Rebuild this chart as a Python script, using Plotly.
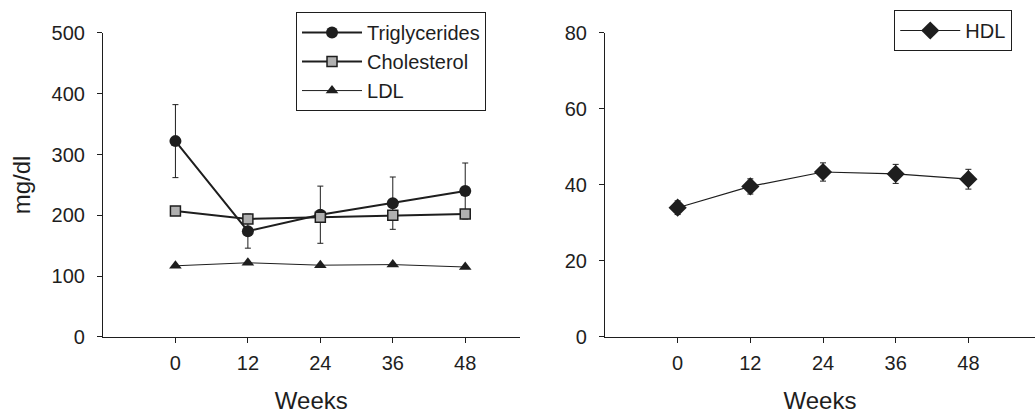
import plotly.graph_objects as go

weeks = [0, 12, 24, 36, 48]
trig = [322, 174, 201, 220, 240]
trig_err = [60, 28, 47, 43, 46]
chol = [207, 194, 197, 200, 202]
chol_err = [6, 5, 5, 5, 5]
ldl = [117, 122, 118, 119, 115]
hdl = [34.0, 39.6, 43.4, 42.9, 41.5]
hdl_err = [1.8, 2.0, 2.4, 2.5, 2.6]

FONT = "Liberation Sans, Arial"
INK = "#1e1e1e"

fig = go.Figure()
fig.add_trace(go.Scatter(x=weeks, y=trig, name="Triglycerides", mode="lines+markers",
                         line=dict(color=INK, width=2),
                         marker=dict(symbol="circle", size=12, color=INK),
                         error_y=dict(type="data", array=trig_err, color=INK, thickness=1, width=3),
                         xaxis="x", yaxis="y", legend="legend"))
fig.add_trace(go.Scatter(x=weeks, y=chol, name="Cholesterol", mode="lines+markers",
                         line=dict(color=INK, width=2),
                         marker=dict(symbol="square", size=10, color="#b0b0b0",
                                     line=dict(color=INK, width=1.5)),
                         error_y=dict(type="data", array=chol_err, color=INK, thickness=1, width=3),
                         xaxis="x", yaxis="y", legend="legend"))
fig.add_trace(go.Scatter(x=weeks, y=ldl, name="LDL", mode="lines+markers",
                         line=dict(color=INK, width=1),
                         marker=dict(symbol="triangle-up", size=11, color=INK),
                         xaxis="x", yaxis="y", legend="legend"))
fig.add_trace(go.Scatter(x=weeks, y=hdl, name="HDL", mode="lines+markers",
                         line=dict(color=INK, width=1.2),
                         marker=dict(symbol="diamond", size=14, color=INK),
                         error_y=dict(type="data", array=hdl_err, color=INK, thickness=1, width=3),
                         xaxis="x2", yaxis="y2", legend="legend2"))

axis_common = dict(showline=True, linecolor=INK, linewidth=1, ticks="outside",
                   ticklen=5, tickcolor=INK, showgrid=False, zeroline=False,
                   automargin=False,
                   tickfont=dict(family=FONT, size=20, color=INK))
title_font = dict(family=FONT, size=24, color=INK)

fig.update_layout(
    width=1035, height=416,
    margin=dict(l=0, r=0, t=0, b=0),
    paper_bgcolor="white", plot_bgcolor="white",
    xaxis=dict(domain=[0.0995, 0.502], range=[-12, 57], tickvals=weeks,
               title=dict(text="Weeks", standoff=19, font=title_font),
               ticklabelstandoff=3, anchor="y", **axis_common),
    yaxis=dict(domain=[0.19, 0.921], range=[0, 500], tickvals=[0, 100, 200, 300, 400, 500],
               title=dict(text="mg/dl", standoff=14, font=title_font),
               ticklabelstandoff=8, anchor="x", **axis_common),
    xaxis2=dict(domain=[0.5845, 1.0], range=[-12, 59], tickvals=weeks,
                title=dict(text="Weeks", standoff=19, font=title_font),
                ticklabelstandoff=3, anchor="y2", **axis_common),
    yaxis2=dict(domain=[0.19, 0.921], range=[0, 80], tickvals=[0, 20, 40, 60, 80],
                ticklabelstandoff=8, anchor="x2", **axis_common),
    legend=dict(x=0.286, y=0.971, xanchor="left", yanchor="top",
                bordercolor=INK, borderwidth=1, bgcolor="white",
                font=dict(family=FONT, size=20, color=INK),
                itemwidth=60, tracegroupgap=0),
    legend2=dict(x=0.864, y=0.976, xanchor="left", yanchor="top",
                 bordercolor=INK, borderwidth=1, bgcolor="white",
                 font=dict(family=FONT, size=20, color=INK),
                 itemwidth=60),
)

fig.write_html("out.html")
